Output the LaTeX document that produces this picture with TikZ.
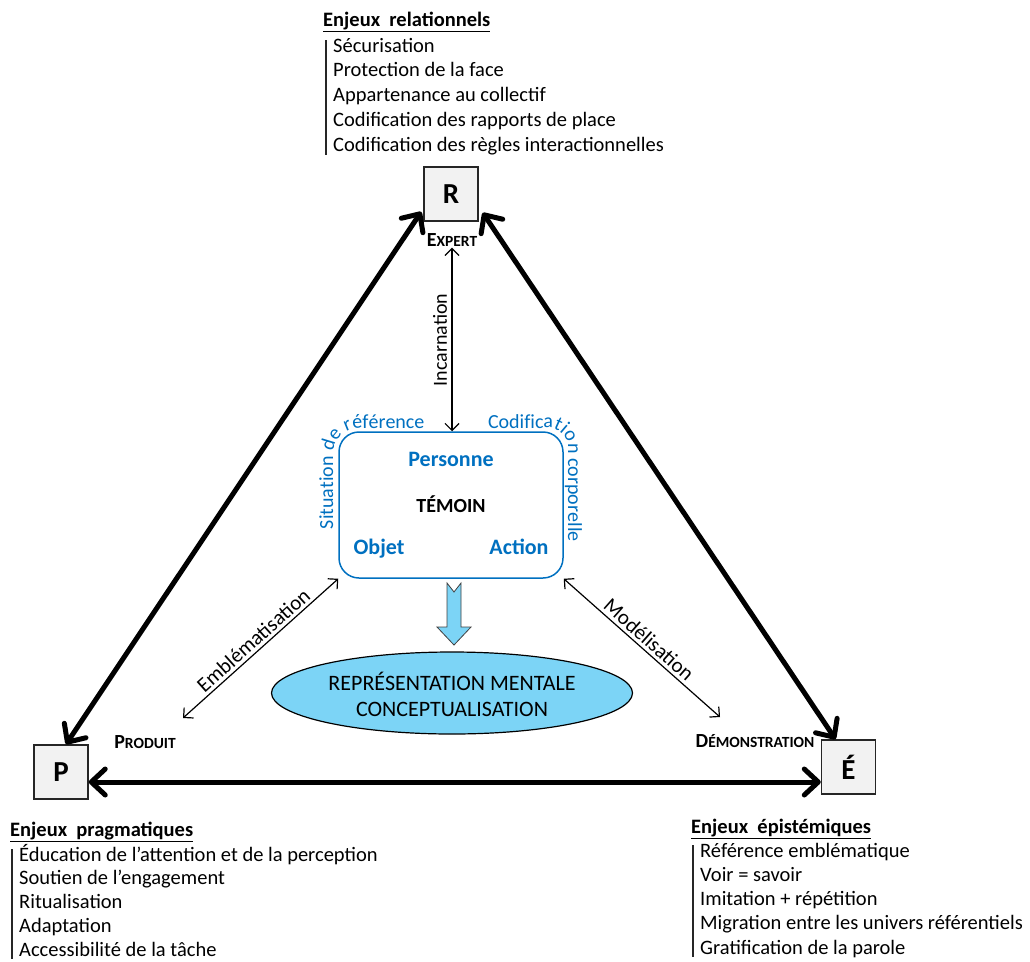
\documentclass[tikz,border=0pt]{standalone}
\usepackage{fontspec}
\setmainfont{Carlito}
\usetikzlibrary{arrows.meta,shapes.geometric,decorations.text,calc}
\definecolor{tblue}{RGB}{0,112,192}
\definecolor{lblue}{RGB}{124,212,246}
\definecolor{boxgray}{RGB}{242,242,242}
\newcommand{\myfs}[1]{\fontsize{#1}{#1}\selectfont}
\newcommand{\fsc}[2]{{\myfs{20}#1}{\myfs{15.5}#2}}
\begin{document}
\begin{tikzpicture}[x=1pt,y=-1pt,
  letterbox/.style={draw=black!85, line width=1.5pt, fill=boxgray, minimum size=54pt, inner sep=0pt, font=\myfs{29}\bfseries},
  bigarrow/.style={line width=5pt, line cap=round,
    {Straight Barb[length=14pt,width=26pt,line cap=round,line join=round]}-{Straight Barb[length=14pt,width=26pt,line cap=round,line join=round]}},
  thinarrow/.style={line width=1.2pt,
    {Straight Barb[length=7pt,width=14pt]}-{Straight Barb[length=7pt,width=14pt]}},
  sclabel/.style={font=\bfseries, inner sep=1pt},
  listitem/.style={anchor=base west, inner sep=0pt, font=\myfs{20.5}},
  listhead/.style={anchor=base west, inner sep=0pt, font=\myfs{20.5}\bfseries},
  listbar/.style={line width=1.2pt, draw=black!85},
  blueword/.style={anchor=base, inner sep=0pt, text=tblue, font=\myfs{22}\bfseries},
  curvetext/.style={decorate, decoration={text along path, text color=tblue, text={|\myfs{20}|#1}}},
  arrowlabel/.style={font=\myfs{21}, inner sep=3pt},
]
\useasboundingbox (0,0) rectangle (1030,961);

% corner boxes
\node[letterbox] (R) at (451,194) {R};
\node[letterbox] (P) at (61,772) {P};
\node[letterbox] (E) at (848.5,767) {É};

% thick arrows
\draw[bigarrow] ([xshift=-2pt,yshift=10pt]R.south west) -- ([xshift=5pt]P.north);
\draw[bigarrow] ([xshift=4pt,yshift=9pt]R.south east) -- ([xshift=-13pt]E.north);
\draw[bigarrow] ([yshift=-10pt]P.east) -- ([yshift=-15pt]E.west);

% small caps labels
\node[sclabel] (Ex) at (452,240) {\fsc{E}{XPERT}};
\node[sclabel] (Pr) at (145,742) {\fsc{P}{RODUIT}};
\node[sclabel] (De) at (755,741) {\fsc{D}{ÉMONSTRATION}};

% central rounded box
\node[draw=tblue, line width=1.5pt, rounded corners=20pt, minimum width=224pt, minimum height=146pt] (T) at (451,505) {};
\node[blueword] (Pe) at (451,466) {Personne};
\node[anchor=base, inner sep=0pt, font=\myfs{20}\bfseries] (Te) at (451,512) {TÉMOIN};
\node[blueword] (Ob) at (379,554) {Objet};
\node[blueword] (Ac) at (519,554) {Action};

% curved texts
\path[rounded corners=26pt, curvetext={Situation de référence}] (333,529) -- (333,428) -- (470,428);
\path[rounded corners=20pt, curvetext={Codification corporelle}] (488,428) -- (568,428) -- (568,580);

% thin arrows
\coordinate (pe) at (183,718);
\coordinate (de) at (720,717);
\draw[thinarrow] (Ex.south) -- (Ex.south |- T.north);
\node[font=\myfs{20}, rotate=90, inner sep=0pt] (Inc) at (440,340) {Incarnation};
\draw[thinarrow] (pe) -- node[sloped, above, arrowlabel] (Emb) {Emblématisation} (T.south west);
\draw[thinarrow] (T.south east) -- node[sloped, above, arrowlabel] (Mod) {Modélisation} (de);

% block arrow
\draw[fill=lblue, draw=black!75, line width=0.8pt, line join=miter]
  (447,583) -- (454,592) -- (461,583) -- (461,627) -- (471,627) -- (454,645) -- (437,627) -- (447,627) -- cycle;

% ellipse
\node[ellipse, draw=black, line width=1.2pt, fill=lblue, minimum width=361pt, minimum height=82pt, inner sep=0pt] (M) at (452,693) {};
\node[anchor=base, inner sep=0pt, font=\myfs{22}] (M1) at (452,690) {REPRÉSENTATION MENTALE};
\node[anchor=base, inner sep=0pt, font=\myfs{22}] (M2) at (452,716) {CONCEPTUALISATION};

% lists
\node[listhead] (rh) at (323,26) {\underline{Enjeux\ \ relationnels}};
\foreach \t [count=\i from 0] in {Sécurisation, Protection de la face, Appartenance au collectif, Codification des rapports de place, Codification des règles interactionnelles}
  \node[listitem] (r\i) at (333,{52+24.75*\i}) {\t};
\draw[listbar] ($(r0.base west)+(-7,-12)$) -- ($(r4.base west)+(-7,4)$);

\node[listhead] (ph) at (10,836) {\underline{Enjeux\ \ pragmatiques}};
\foreach \t [count=\i from 0] in {Éducation de l’attention et de la perception, Soutien de l’engagement, Ritualisation, Adaptation, Accessibilité de la tâche}
  \node[listitem] (p\i) at (19,{861+23.8*\i}) {\t};
\draw[listbar] ($(p0.base west)+(-7,-12)$) -- ($(p4.base west)+(-7,3)$);

\node[listhead] (eh) at (691,833) {\underline{Enjeux\ \ épistémiques}};
\foreach \t [count=\i from 0] in {Référence emblématique, Voir = savoir, Imitation + répétition, Migration entre les univers référentiels, Gratification de la parole}
  \node[listitem] (e\i) at (700,{857+24.3*\i}) {\t};
\draw[listbar] ($(e0.base west)+(-7,-12)$) -- ($(e4.base west)+(-7,3)$);
\end{tikzpicture}
\end{document}
